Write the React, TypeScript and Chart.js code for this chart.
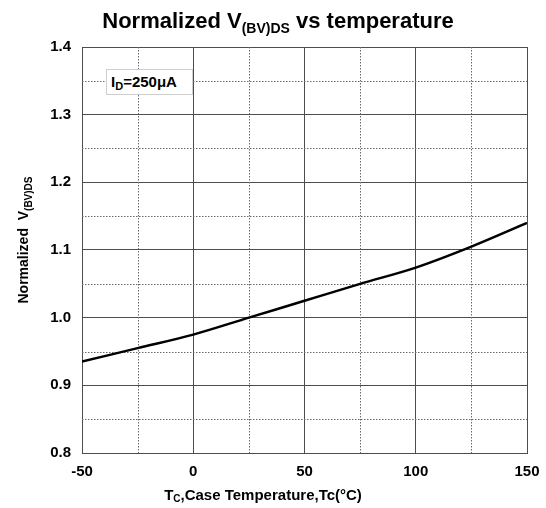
import React, { useEffect, useRef } from "react";
import { Chart, registerables } from "chart.js";

Chart.register(...registerables);

// Case temperature (°C) and normalized breakdown voltage
const temperatures = [-50, -25, 0, 25, 50, 75, 100, 125, 150];
const normalizedBV = [0.935, 0.955, 0.975, 1.0, 1.025, 1.05, 1.074, 1.105, 1.14];

// Axis ranges and tick steps
const xRange = [-50, 150];
const yRange = [0.8, 1.4];
const xMajorStep = 50;
const yMajorStep = 0.1;
const xMinorLines = [-25, 25, 75, 125];
const yMinorLines = [0.85, 0.95, 1.05, 1.15, 1.25, 1.35];

const FONT = "'Liberation Sans', Arial, Helvetica, sans-serif";

// Dotted intermediate grid lines
const minorGrid = {
  id: "minorGrid",
  beforeDatasetsDraw(chart: any) {
    const { ctx, chartArea, scales } = chart;
    ctx.save();
    ctx.strokeStyle = "#6a6a6a";
    ctx.lineWidth = 1;
    ctx.setLineDash([1.5, 1.5]);
    xMinorLines.forEach((v) => {
      const px = Math.round(scales.x.getPixelForValue(v)) + 0.5;
      ctx.beginPath();
      ctx.moveTo(px, chartArea.top);
      ctx.lineTo(px, chartArea.bottom);
      ctx.stroke();
    });
    yMinorLines.forEach((v) => {
      const py = Math.round(scales.y.getPixelForValue(v)) + 0.5;
      ctx.beginPath();
      ctx.moveTo(chartArea.left, py);
      ctx.lineTo(chartArea.right, py);
      ctx.stroke();
    });
    ctx.restore();
  },
};

export default function App() {
  const canvasRef = useRef<HTMLCanvasElement | null>(null);

  useEffect(() => {
    if (!canvasRef.current) return;
    const chart = new Chart(canvasRef.current, {
      type: "line",
      data: {
        datasets: [
          {
            data: temperatures.map((t, i) => ({ x: t, y: normalizedBV[i] })),
            borderColor: "#000000",
            borderWidth: 2.5,
            pointRadius: 0,
            cubicInterpolationMode: "monotone",
            fill: false,
          },
        ],
      },
      options: {
        animation: false,
        responsive: false,
        devicePixelRatio: 1,
        layout: { padding: { left: 0, right: 19, top: 47, bottom: 25 } },
        plugins: {
          legend: { display: false },
          tooltip: { enabled: false },
          title: { display: false },
        },
        scales: {
          x: {
            type: "linear",
            min: xRange[0],
            max: xRange[1],
            afterFit: (s: any) => {
              s.height = 30;
              s.paddingLeft = 0;
              s.paddingRight = 0;
            },
            ticks: {
              stepSize: xMajorStep,
              padding: 10,
              color: "#000",
              font: { family: FONT, size: 15, weight: "bold" },
              maxRotation: 0,
            },
            grid: { color: "#4d4d4d", lineWidth: 1, drawTicks: false },
            border: { color: "#4d4d4d", width: 1 },
          },
          y: {
            type: "linear",
            min: yRange[0],
            max: yRange[1],
            afterFit: (s: any) => {
              s.width = 82;
              s.paddingTop = 0;
              s.paddingBottom = 0;
            },
            ticks: {
              stepSize: yMajorStep,
              padding: 11,
              color: "#000",
              font: { family: FONT, size: 15, weight: "bold" },
              callback: (v: any) => Number(v).toFixed(1),
            },
            grid: { color: "#4d4d4d", lineWidth: 1, drawTicks: false },
            border: { color: "#4d4d4d", width: 1 },
          },
        },
      },
      plugins: [minorGrid],
    } as any);
    return () => chart.destroy();
  }, []);

  const bold = { fontFamily: FONT, fontWeight: 700, color: "#000" } as const;

  return (
    <div
      style={{
        position: "fixed",
        left: 0,
        top: 0,
        width: 546,
        height: 508,
        background: "#fff",
        overflow: "hidden",
      }}
    >
      <canvas ref={canvasRef} width={546} height={508} style={{ display: "block" }} />

      {/* Chart title */}
      <div
        style={{
          ...bold,
          position: "absolute",
          left: 0,
          top: 10,
          width: 556,
          textAlign: "center",
          fontSize: 22,
          lineHeight: "22px",
          whiteSpace: "nowrap",
        }}
      >
        Normalized V
        <span style={{ fontSize: 14, position: "relative", top: 5 }}>(BV)DS</span> vs temperature
      </div>

      {/* Y axis title */}
      <div
        style={{
          ...bold,
          position: "absolute",
          left: 23 - 100,
          top: 240 - 10,
          width: 200,
          height: 20,
          lineHeight: "20px",
          textAlign: "center",
          fontSize: 14,
          whiteSpace: "nowrap",
          transform: "rotate(-90deg)",
        }}
      >
        Normalized&nbsp;&nbsp;V
        <span style={{ fontSize: 10, position: "relative", top: 4 }}>(BV)DS</span>
      </div>

      {/* X axis title */}
      <div
        style={{
          ...bold,
          position: "absolute",
          left: 0,
          top: 486,
          width: 526,
          textAlign: "center",
          fontSize: 15,
          lineHeight: "18px",
          whiteSpace: "nowrap",
        }}
      >
        T<span style={{ fontSize: 10, position: "relative", top: 2 }}>C</span>,Case Temperature,Tc(°C)
      </div>

      {/* Test condition box */}
      <div
        style={{
          ...bold,
          position: "absolute",
          left: 106,
          top: 69,
          width: 87,
          height: 26,
          boxSizing: "border-box",
          border: "1px solid #cfcfcf",
          background: "#fff",
          fontSize: 15,
          lineHeight: "24px",
          paddingLeft: 4,
          whiteSpace: "nowrap",
        }}
      >
        I<span style={{ fontSize: 11, position: "relative", top: 3 }}>D</span>=250μA
      </div>
    </div>
  );
}
